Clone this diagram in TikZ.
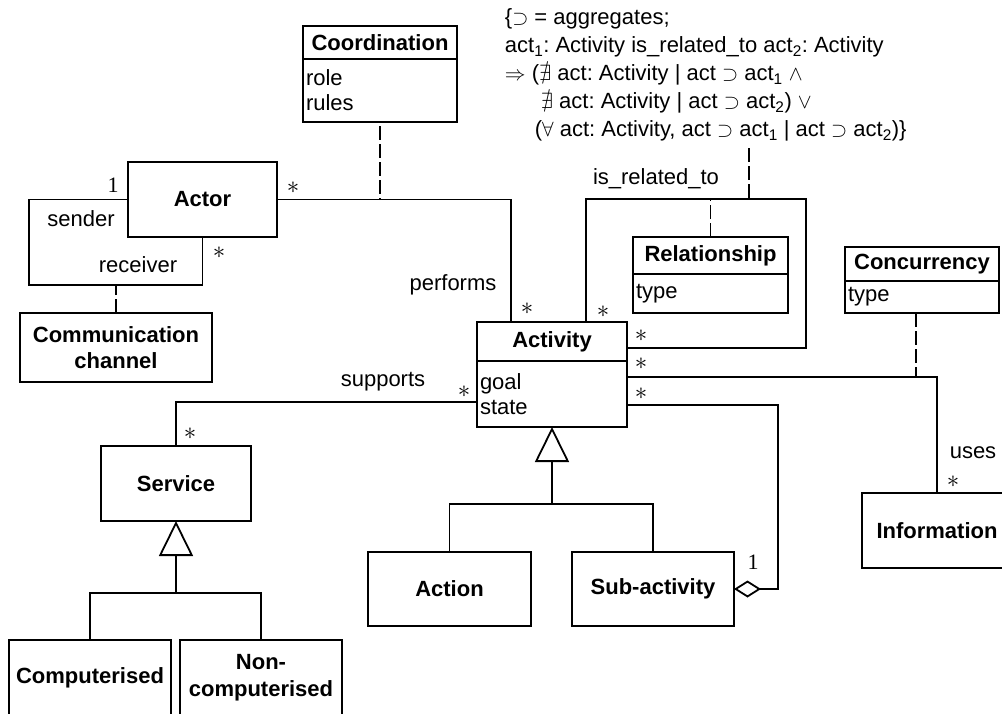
\documentclass[tikz,border=0pt]{standalone}
\usepackage{fontspec}
\usepackage{amssymb}
\setmainfont{Liberation Sans}
\newfontfamily\multfont{Liberation Serif}
\usetikzlibrary{positioning,arrows.meta}

\begin{document}
\begin{tikzpicture}[x=1pt,y=-1pt,line width=1.8pt,
        font=\fontsize{22}{26}\selectfont,
        classbox/.style={draw,font=\fontsize{22}{26.5}\selectfont\bfseries,align=center,inner sep=0pt,outer sep=0pt},
        attrbox/.style={draw,align=left,inner sep=3pt,outer sep=0pt,font=\fontsize{22}{25}\selectfont},
        lbl/.style={inner sep=0pt},
        mult/.style={inner sep=0pt,font=\fontsize{22}{26}\selectfont\multfont},
        starmult/.style={inner sep=0pt,font=\fontsize{28}{30}\selectfont},
        attach/.style={dash pattern=on 14pt off 4pt},
        inherit/.style={-{Triangle[open,length=35pt,width=34pt]}},
        aggr/.style={-{Diamond[open,length=27pt,width=17pt]}}]
    %% page
    \useasboundingbox (0,0) rectangle (1002,713);
    \clip (0,0) rectangle (1002,713);
    %% constraint
    \node[anchor=north west,align=left,inner sep=0pt,font=\fontsize{22}{28}\selectfont\frenchspacing] (note) at (504,8)
        {\{$\supset$ = aggregates;\\
         act\textsubscript{1}: Activity is\_related\_to act\textsubscript{2}: Activity\\
         $\Rightarrow$ ($\nexists$ act: Activity | act $\supset$ act\textsubscript{1} $\wedge$\\
         \hspace*{36pt}$\nexists$ act: Activity | act $\supset$ act\textsubscript{2}) $\vee$\\
         \hspace*{30pt}($\forall$ act: Activity, act $\supset$ act\textsubscript{1} | act $\supset$ act\textsubscript{2})\}};
    %% classes
    \node[classbox,minimum width=154pt,minimum height=33pt] (coordhead) at (380,42.5) {Coordination};
    \node[attrbox,below=0pt of coordhead,minimum height=63pt,text width=148pt] (coordattr) {role\\rules};
    \node[classbox,minimum width=149pt,minimum height=75pt] (actor) at (202.5,199.5) {Actor};
    \node[classbox,minimum width=192pt,minimum height=69pt] (channel) at (116,347.5) {Communication\\channel};
    \node[classbox,minimum width=150pt,minimum height=39pt] (acthead) at (552,341.5) {Activity};
    \node[attrbox,below=0pt of acthead,minimum height=66pt,text width=144pt] (actattr) {goal\\state};
    \node[classbox,minimum width=155pt,minimum height=37pt] (relhead) at (710.5,255.5) {Relationship};
    \node[attrbox,below=0pt of relhead,minimum height=39pt,text width=149pt] (relattr) {type};
    \node[classbox,minimum width=154pt,minimum height=34pt] (conchead) at (922,264) {Concurrency};
    \node[attrbox,below=0pt of conchead,minimum height=32pt,text width=148pt] (concattr) {type};
    \node[classbox,minimum width=150pt,minimum height=75pt] (service) at (176,483.5) {Service};
    \node[classbox,minimum width=162pt,minimum height=75pt] (comp) at (90,677.5) {Computerised};
    \node[classbox,minimum width=162pt,minimum height=75pt] (noncomp) at (261,677.5) {Non-\\computerised};
    \node[classbox,minimum width=163pt,minimum height=74pt] (action) at (449.5,589) {Action};
    \node[classbox,minimum width=162pt,minimum height=74pt] (subact) at (653,589) {Sub-activity};
    \node[classbox,minimum width=150pt,minimum height=75pt] (info) at (937,530.5) {Information};
    %% bends
    \coordinate (perf) at (511,199);
    \coordinate (self) at (29,285);
    \coordinate (relL) at (586,199);
    \coordinate (relR) at (806,348);
    \coordinate (notept) at (749,199);
    \coordinate (notebot) at ([yshift=-6pt]note.south);
    \coordinate (coordbot) at ([yshift=-4pt]coordattr.south);
    \coordinate (concpt) at (916,377);
    \coordinate (aggpt) at (778,405);
    \coordinate (suppt) at (176,402);
    \coordinate (genact) at (552,504);
    \coordinate (genserv) at (176,593);
    %% performs
    \draw (actor.east) -| (acthead.north -| perf);
    \draw[attach] (coordbot) -- (coordbot |- perf);
    %% sender / receiver
    \draw (actor.west) -| (self) -| (actor.south);
    \draw[attach] (channel.north) -- (channel.north |- self);
    %% is_related_to
    \draw (acthead.north -| relL) -- (relL) -| (relR) -- (relR -| acthead.east);
    \draw[attach] (relhead.north) -- (relhead.north |- relL);
    \draw[attach] (notept |- notebot) -- (notept);
    %% uses
    \draw (actattr.east |- concpt) -| (info.north);
    \draw[attach] (concattr.south -| concpt) -- (concpt);
    %% aggregation
    \draw[aggr] (actattr.east |- aggpt) -- (aggpt) |- (subact.east);
    %% supports
    \draw (actattr.west |- suppt) -| (service.north);
    %% generalisation
    \draw[inherit] (action.north) |- (genact) -- (actattr.south);
    \draw (subact.north) |- (genact);
    \draw[inherit] (comp.north) |- (genserv) -- (service.south);
    \draw (noncomp.north) |- (genserv);
    %% role names
    \node[lbl] (sender) at (81,219) {sender};
    \node[lbl] (receiver) at (138,265) {receiver};
    \node[lbl] (performs) at (453,285) {performs};
    \node[lbl] (supports) at (383,382) {supports};
    \node[lbl] (isrel) at (656,179) {is\_related\_to};
    \node[lbl] (uses) at (973,453) {uses};
    %% multiplicities
    \foreach \x/\y [count=\i] in {293/188,219/253,527/309,603/312,641/336,641/364,641/394,464/392,190/434,953/482}
        \node[starmult] (star\i) at (\x,\y) {$\ast$};
    \node[mult] (one1) at (113,185) {1};
    \node[mult] (one2) at (753,562) {1};
\end{tikzpicture}
\end{document}
